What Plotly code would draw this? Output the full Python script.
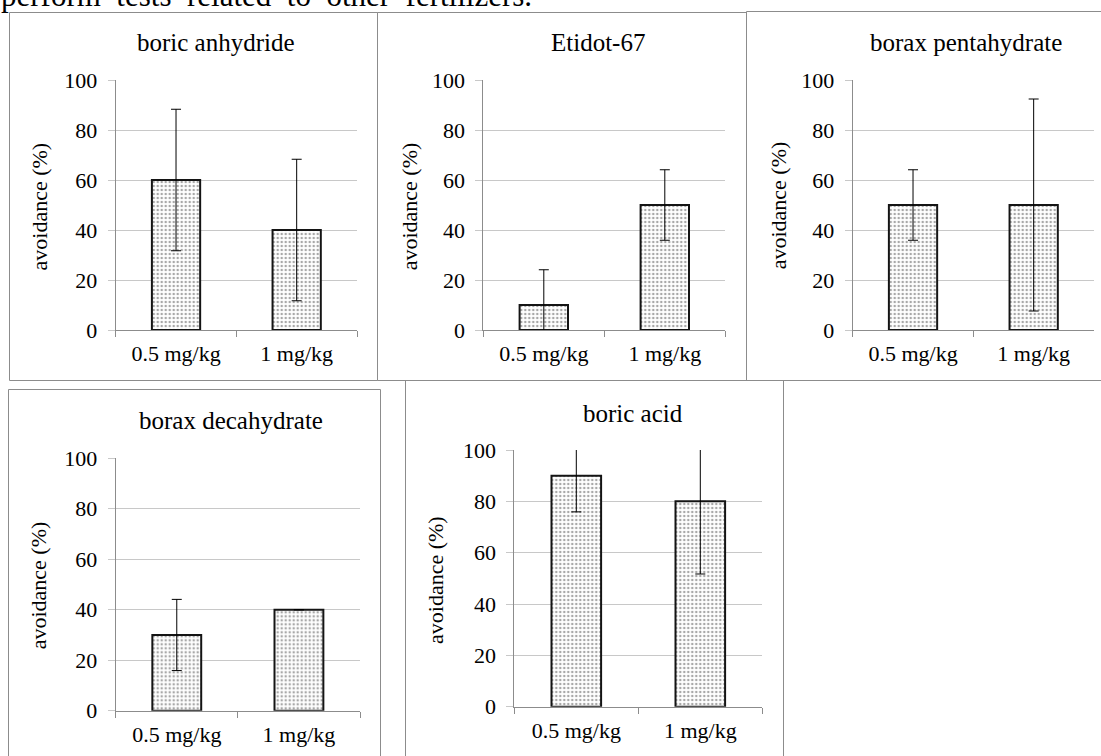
import plotly.graph_objects as go

W, H = 1101, 756

categories = ["0.5 mg/kg", "1 mg/kg"]
panel_titles = ["boric anhydride", "Etidot-67", "borax pentahydrate",
                "borax decahydrate", "boric acid"]
boric_anhydride = [60, 40]
etidot_67 = [10, 50]
borax_pentahydrate = [50, 50]
borax_decahydrate = [30, 40]
boric_acid = [90, 80]
err_boric_anhydride = [28.3, 28.3]
err_etidot_67 = [14.1, 14.1]
err_borax_pentahydrate = [14.1, 42.4]
err_borax_decahydrate = [14.1, 0]
err_boric_acid = [14.1, 28.3]
y_tick_vals = [0, 20, 40, 60, 80, 100]
y_title = "avoidance (%)"
top_text = "perform tests related to other fertilizers."

values = [boric_anhydride, etidot_67, borax_pentahydrate, borax_decahydrate, boric_acid]
errors = [err_boric_anhydride, err_etidot_67, err_borax_pentahydrate,
          err_borax_decahydrate, err_boric_acid]

FONT = "Liberation Serif"
FS = 22
FS_TITLE = 25


def px(x):
    return x / W


def py(y):
    return 1 - y / H


# plot areas in pixels: (x0, x1, ytop, ybottom)
areas = [
    (115.7, 357.0, 80.0, 330.0),
    (483.3, 725.3, 80.0, 330.0),
    (852.7, 1094.0, 80.0, 330.0),
    (115.7, 360.0, 458.3, 710.7),
    (514.3, 762.3, 450.0, 706.7),
]
title_pos = [(216, 43), (598.3, 43), (966, 43), (231.3, 420), (632.8, 413)]
ytitle_pos = [(39, 206.5), (409.3, 206), (778.3, 205), (38.3, 585), (435, 580)]
borders = [
    (9, 377, 12, 380),
    (377, 746, 12, 380),
    (746, 1110, 11, 380),
    (8, 380, 389, 770),
    (405, 783, 380, 770),
]

fig = go.Figure()
layout = dict(
    width=W, height=H, autosize=False,
    margin=dict(l=0, r=0, t=0, b=0, pad=0, autoexpand=False),
    paper_bgcolor="white", plot_bgcolor="white",
    showlegend=False,
    font=dict(family=FONT, size=FS, color="#000000"),
    bargap=0.6,
)
annotations = []
shapes = []

for i in range(5):
    n = i + 1
    xa = "x" if n == 1 else f"x{n}"
    ya = "y" if n == 1 else f"y{n}"
    fig.add_trace(go.Bar(
        x=categories, y=values[i], xaxis=xa, yaxis=ya,
        marker=dict(color="white",
                    line=dict(color="#141414", width=2),
                    pattern=dict(shape=".", fgcolor="#505050", bgcolor="white",
                                 size=4, solidity=0.3)),
        error_y=dict(type="data", array=errors[i], visible=True,
                     color="#000000", thickness=1, width=5),
        width=0.4,
    ))
    x0, x1, yt, yb = areas[i]
    layout[f"xaxis{'' if n == 1 else n}"] = dict(
        domain=[px(x0), px(x1)], anchor=ya, automargin=False,
        type="category", showgrid=False, zeroline=False,
        showline=True, linecolor="#8c8c8c", linewidth=1,
        ticks="outside", tickson="boundaries", ticklen=6,
        tickcolor="#8c8c8c", tickwidth=1,
        tickfont=dict(family=FONT, size=FS, color="#000000"),
        ticklabelstandoff=4, fixedrange=True,
    )
    layout[f"yaxis{'' if n == 1 else n}"] = dict(
        domain=[py(yb), py(yt)], anchor=xa, automargin=False,
        range=[0, 100], tickvals=y_tick_vals,
        showgrid=True, gridcolor="#c8c8c8", gridwidth=1,
        zeroline=False, showline=True, linecolor="#8c8c8c", linewidth=1,
        ticks="outside", ticklen=7, tickcolor="#c8c8c8", tickwidth=1,
        tickfont=dict(family=FONT, size=FS, color="#000000"),
        ticklabelstandoff=6, fixedrange=True,
    )
    tx, ty = title_pos[i]
    annotations.append(dict(
        text=panel_titles[i], x=px(tx), y=py(ty), xref="paper", yref="paper",
        xanchor="center", yanchor="middle", showarrow=False,
        font=dict(family=FONT, size=FS_TITLE, color="#000000"),
    ))
    ax_, ay_ = ytitle_pos[i]
    annotations.append(dict(
        text=y_title, x=px(ax_), y=py(ay_), xref="paper", yref="paper",
        xanchor="center", yanchor="middle", showarrow=False, textangle=-90,
        font=dict(family=FONT, size=FS, color="#000000"),
    ))
    bx0, bx1, by0, by1 = borders[i]
    shapes.append(dict(
        type="rect", xref="paper", yref="paper",
        x0=px(bx0 + 0.5), x1=px(bx1 + 0.5), y0=py(by1 + 0.5), y1=py(by0 + 0.5),
        line=dict(color="#8c8c8c", width=1), fillcolor="rgba(0,0,0,0)",
    ))

annotations.append(dict(
    text=top_text.replace(" ", " &nbsp;"), x=px(-1), y=py(-4), xref="paper", yref="paper",
    xanchor="left", yanchor="middle", showarrow=False,
    font=dict(family=FONT, size=31, color="#000000"),
))

layout["annotations"] = annotations
layout["shapes"] = shapes
fig.update_layout(**layout)
fig.write_html("out.html", config={"displayModeBar": False},
               post_script="document.body.style.margin='0';document.body.style.overflow='hidden';")
